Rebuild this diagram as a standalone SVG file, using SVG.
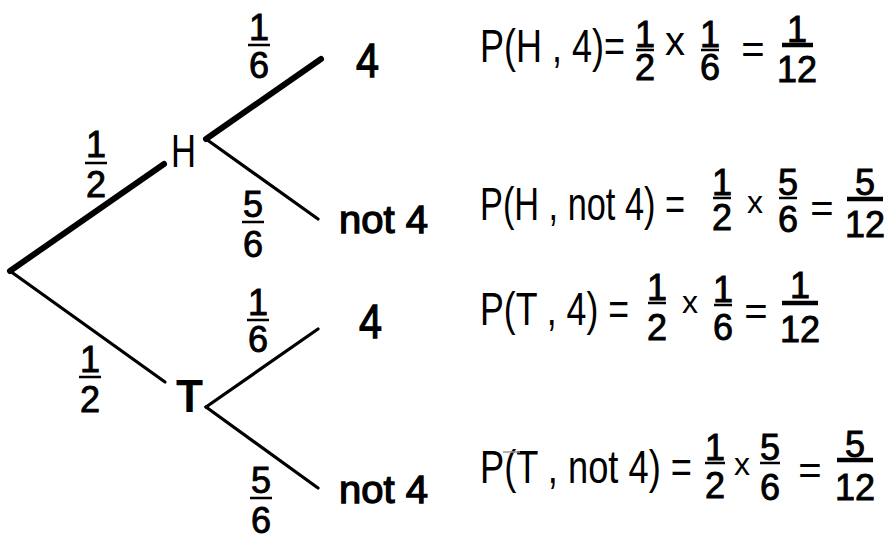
<svg xmlns="http://www.w3.org/2000/svg" width="889" height="535" viewBox="0 0 889 535">
<style>
text{font-family:"Liberation Sans",Arial,sans-serif;fill:#000}
.lab{font-size:48px;stroke:#000;stroke-width:1.3}
.frac{font-size:36px;text-anchor:middle;stroke:#000;stroke-width:0.9}
.f{font-size:46px}
.op{font-size:40px;text-anchor:middle}
.bar{stroke:#000;stroke-width:2.5}
.tbar{stroke:#000;stroke-width:4.5}
.thick{stroke:#000;stroke-width:6;stroke-linecap:round}
.thin{stroke:#000;stroke-width:3.2;stroke-linecap:round}
</style>
<rect width="889" height="535" fill="#fff"/>
<g id="connectors">
<line class="thick" x1="10" y1="271" x2="164" y2="164"/>
<line class="thin" x1="10" y1="271" x2="165" y2="382"/>
<line class="thick" x1="206" y1="139" x2="321" y2="59"/>
<line class="thin" x1="206" y1="139" x2="318" y2="219"/>
<line class="thin" x1="206" y1="407" x2="318" y2="329"/>
<line class="thin" x1="206" y1="407" x2="318" y2="488"/>
<g id="edge-labels">
<text class="frac" x="96" y="157">1</text><line class="bar" x1="85" y1="163" x2="107" y2="163"/><text class="frac" x="96" y="197">2</text>
<text class="frac" x="259" y="40">1</text><line class="bar" x1="248" y1="45" x2="270" y2="45"/><text class="frac" x="259" y="78">6</text>
<text class="frac" x="253" y="217">5</text><line class="bar" x1="242" y1="222" x2="264" y2="222"/><text class="frac" x="253" y="257">6</text>
<text class="frac" x="90" y="372">1</text><line class="bar" x1="79" y1="377" x2="101" y2="377"/><text class="frac" x="90" y="412">2</text>
<text class="frac" x="258" y="315">1</text><line class="bar" x1="247" y1="320" x2="269" y2="320"/><text class="frac" x="258" y="352">6</text>
<text class="frac" x="261" y="493">5</text><line class="bar" x1="250" y1="498" x2="272" y2="498"/><text class="frac" x="261" y="533">6</text>
</g>
</g>
<g id="node-H"><text x="171" y="167" font-size="47" textLength="25" lengthAdjust="spacingAndGlyphs">H</text></g>
<g id="node-T"><text x="176" y="412" font-size="47" font-weight="bold" textLength="27" lengthAdjust="spacingAndGlyphs">T</text></g>
<g id="node-H4"><text class="lab" x="356" y="77" textLength="23" lengthAdjust="spacingAndGlyphs">4</text></g>
<g id="node-Hnot4"><text class="lab" x="339" y="233" style="font-size:39px" textLength="89" lengthAdjust="spacingAndGlyphs">not 4</text></g>
<g id="node-T4"><text class="lab" x="359" y="338" textLength="23" lengthAdjust="spacingAndGlyphs">4</text></g>
<g id="node-Tnot4"><text class="lab" x="339" y="503" style="font-size:39px" textLength="89" lengthAdjust="spacingAndGlyphs">not 4</text></g>
<g id="formula-H4">
<text class="f" x="480" y="62" textLength="145" lengthAdjust="spacingAndGlyphs">P(H , 4)=</text>
<text class="frac" x="645" y="47">1</text><line class="bar" x1="636" y1="50" x2="654" y2="50"/><text class="frac" x="645" y="80">2</text>
<text class="op" x="675" y="55">x</text>
<text class="frac" x="710" y="47">1</text><line class="bar" x1="701" y1="50" x2="719" y2="50"/><text class="frac" x="710" y="80">6</text>
<text class="op" x="753" y="63">=</text>
<text class="frac" x="797" y="42">1</text><line class="tbar" x1="782" y1="45" x2="813" y2="45"/><text class="frac" x="797" y="82">12</text>
</g>
<g id="formula-Hnot4">
<text class="f" x="480" y="220" textLength="205" lengthAdjust="spacingAndGlyphs">P(H , not 4) =</text>
<text class="frac" x="722" y="195">1</text><line class="bar" x1="713" y1="198" x2="731" y2="198"/><text class="frac" x="722" y="230">2</text>
<text class="op" x="755" y="213" style="font-size:32px">x</text>
<text class="frac" x="788" y="195">5</text><line class="bar" x1="779" y1="198" x2="797" y2="198"/><text class="frac" x="788" y="232">6</text>
<text class="op" x="822" y="222">=</text>
<text class="frac" x="865" y="195">5</text><line class="tbar" x1="847" y1="199" x2="883" y2="199"/><text class="frac" x="865" y="237">12</text>
</g>
<g id="formula-T4">
<text class="f" x="480" y="325" textLength="149" lengthAdjust="spacingAndGlyphs">P(T , 4) =</text>
<text class="frac" x="657" y="300">1</text><line class="bar" x1="648" y1="303" x2="666" y2="303"/><text class="frac" x="657" y="340">2</text>
<text class="op" x="690" y="313" style="font-size:32px">x</text>
<text class="frac" x="723" y="302">1</text><line class="bar" x1="714" y1="305" x2="732" y2="305"/><text class="frac" x="723" y="340">6</text>
<text class="op" x="756" y="325">=</text>
<text class="frac" x="800" y="298">1</text><line class="tbar" x1="782" y1="303" x2="818" y2="303"/><text class="frac" x="800" y="342">12</text>
</g>
<g id="formula-Tnot4">
<text class="f" x="480" y="483" textLength="212" lengthAdjust="spacingAndGlyphs">P(T , not 4) =</text>
<line x1="503" y1="452" x2="520" y2="452" stroke="#999" stroke-width="1.5"/>
<text class="frac" x="715" y="460">1</text><line class="bar" x1="705" y1="463" x2="725" y2="463"/><text class="frac" x="715" y="498">2</text>
<text class="op" x="742" y="475" style="font-size:32px">x</text>
<text class="frac" x="770" y="460">5</text><line class="bar" x1="760" y1="463" x2="780" y2="463"/><text class="frac" x="770" y="500">6</text>
<text class="op" x="810" y="484">=</text>
<text class="frac" x="855" y="457">5</text><line class="tbar" x1="837" y1="460" x2="873" y2="460"/><text class="frac" x="855" y="500">12</text>
</g>
</svg>
